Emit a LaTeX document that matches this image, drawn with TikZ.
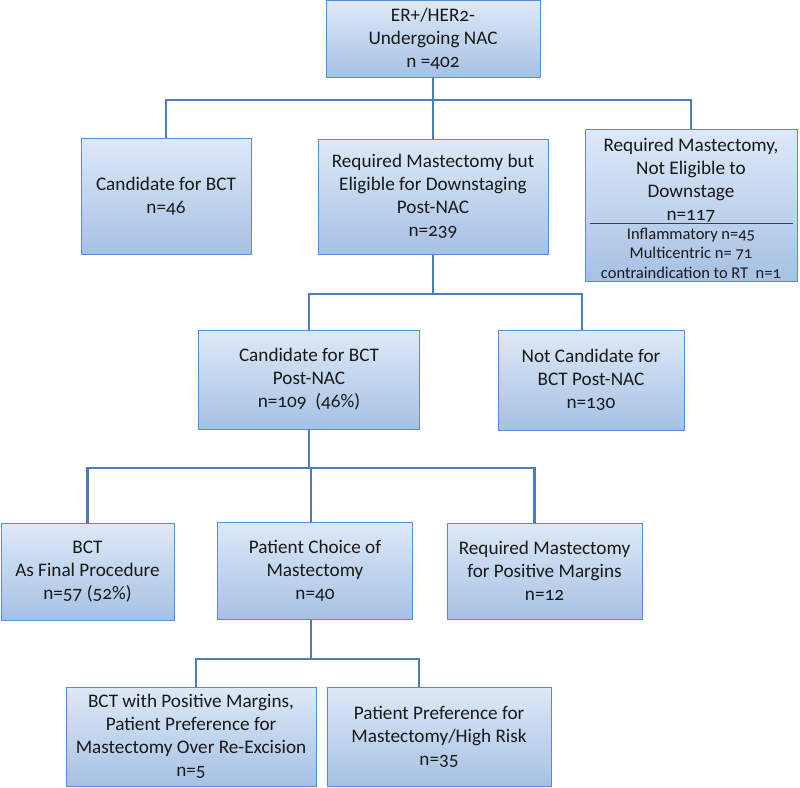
\documentclass[tikz,border=0pt]{standalone}
\usepackage{fontspec}
\setmainfont{Carlito}[Numbers=OldStyle]
\definecolor{boxtop}{RGB}{222,233,247}
\definecolor{boxbot}{RGB}{166,193,228}
\definecolor{boxline}{RGB}{84,141,212}
\definecolor{linkblue}{RGB}{74,126,187}
\definecolor{txt}{RGB}{25,25,25}

\begin{document}
\begin{tikzpicture}[x=1pt,y=-1pt,
    box/.style={draw=boxline,line width=1pt,top color=boxtop,bottom color=boxbot,
                align=center,inner sep=0pt,text=txt,font=\fontsize{19.2}{23}\selectfont},
    boxtext/.style={align=center,inner sep=0pt,text=txt,font=\fontsize{19.2}{23}\selectfont},
    smalltext/.style={align=center,inner sep=0pt,text=txt,font=\fontsize{16.5}{19.5}\selectfont},
    link/.style={draw=linkblue,line width=2.6pt},
    sepline/.style={draw=black!75,line width=0.9pt}]
      \useasboundingbox (0,0) rectangle (800,787);

      % first row
      \node[box,minimum width=214,minimum height=77] (root) at (433,38.5) {ER+/HER2-\\Undergoing NAC\\n =402};

      % second row
      \node[box,minimum width=170,minimum height=116] (cand) at (166,196) {Candidate for BCT\\n=46};
      \node[box,minimum width=230,minimum height=115] (downstage) at (433,196.5) {Required Mastectomy but\\Eligible for Downstaging\\Post-NAC\\n=239};
      \node[box,minimum width=212,minimum height=152] (noteli) at (691,205) {};
      \node[boxtext] (notelitxt) at (691,180) {Required Mastectomy,\\Not Eligible to\\Downstage\\n=117};
      \node[smalltext] (reasons) at (691,253) {Inflammatory n=45\\Multicentric n= 71\\contraindication to RT~~n=1};
      \coordinate (cut) at (691,223);
      \draw[sepline] ([xshift=5]noteli.west |- cut) -- ([xshift=-5]noteli.east |- cut);

      % third row
      \node[box,minimum width=221,minimum height=99] (candpost) at (309,379.5) {Candidate for BCT\\Post-NAC\\n=109~~(46\%)};
      \node[box,minimum width=186,minimum height=100] (notcand) at (591,380) {Not Candidate for\\BCT Post-NAC\\n=130};

      % fourth row
      \node[box,minimum width=173,minimum height=97] (final) at (87.5,571.5) {BCT\\As Final Procedure\\n=57 (52\%)};
      \node[box,minimum width=195,minimum height=97] (choice) at (315,570.5) {Patient Choice of\\Mastectomy\\n=40};
      \node[box,minimum width=195,minimum height=96] (margins) at (544.5,571) {Required Mastectomy\\for Positive Margins\\n=12};

      % fifth row
      \node[box,minimum width=250,minimum height=99] (posmarg) at (191,736.5) {BCT with Positive Margins,\\Patient Preference for\\Mastectomy Over Re-Excision\\n=5};
      \node[box,minimum width=224,minimum height=99] (highrisk) at (439,736.5) {Patient Preference for\\Mastectomy/High Risk\\n=35};

      % connectors
      \coordinate (f1) at (433,100);
      \coordinate (f2) at (433,294);
      \coordinate (f3) at (311,468);
      \coordinate (f4) at (311,659);
      \draw[link] (root.south) -- (f1);
      \draw[link] (cand.north) |- (f1) -| (noteli.north);
      \draw[link] (f1) -- (downstage.north);
      \draw[link] (downstage.south) -- (f2);
      \draw[link] (candpost.north) |- (f2) -| ([xshift=-9]notcand.north);
      \draw[link] (candpost.south) -- (candpost.south |- f3);
      \draw[link] (final.north) |- (f3) -| ([xshift=-10]margins.north);
      \draw[link] (f3) -- (f3 |- choice.north);
      \draw[link] (f4 |- choice.south) -- (f4);
      \draw[link] ([xshift=5]posmarg.north) |- (f4) -| ([xshift=-20]highrisk.north);
    \end{tikzpicture}
\end{document}
